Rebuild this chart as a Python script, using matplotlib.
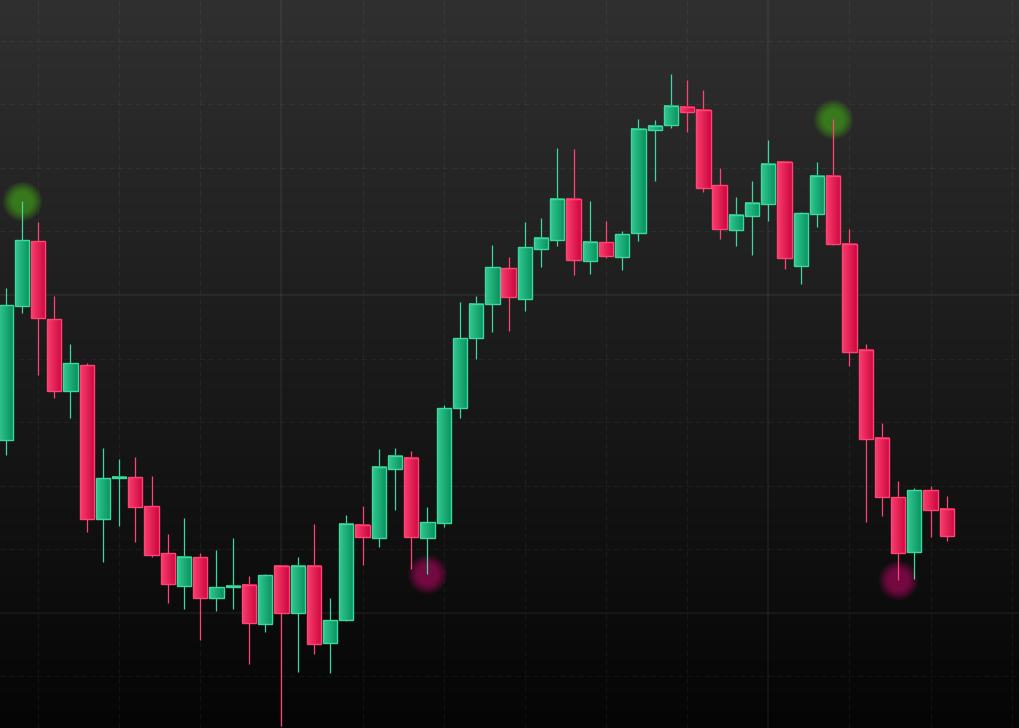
import matplotlib
matplotlib.use("Agg")
import matplotlib.pyplot as plt
import numpy as np
from matplotlib.colors import LinearSegmentedColormap
from matplotlib.patches import Rectangle

# OHLC values (one candle per slot)
opens = [102.72, 104.83, 105.85, 104.62, 103.49, 103.90, 101.48, 102.12, 102.14, 101.68,
         100.94, 100.42, 100.88, 100.24, 100.41, 100.44, 99.83, 100.74, 100.00, 100.74,
         99.53, 99.89, 101.38, 101.18, 102.26, 102.44, 101.18, 101.42, 103.22, 104.32,
         104.86, 105.42, 104.94, 105.72, 105.86, 106.51, 105.53, 105.83, 105.60, 105.97,
         107.59, 107.67, 107.96, 107.91, 106.73, 106.02, 106.24, 106.43, 107.09, 105.46,
         106.27, 106.87, 105.80, 104.14, 102.75, 101.82, 100.96, 101.93, 101.64]
highs = [105.11, 106.48, 106.15, 104.98, 104.23, 103.93, 102.59, 102.42, 102.45, 102.15,
         101.24, 101.49, 100.94, 100.99, 101.18, 100.58, 100.61, 100.75, 100.88, 101.40,
         100.24, 101.54, 101.68, 102.58, 102.59, 102.55, 101.67, 103.27, 104.89, 104.98,
         105.79, 105.60, 106.15, 106.21, 107.31, 107.30, 106.48, 106.16, 106.01, 107.77,
         107.75, 108.47, 108.38, 108.22, 107.00, 106.54, 106.79, 107.44, 107.11, 106.30,
         107.09, 107.77, 106.04, 104.23, 102.99, 102.08, 101.97, 102.00, 101.84]
lows = [102.48, 104.72, 103.74, 103.38, 103.07, 101.27, 100.80, 101.37, 101.12, 100.88,
        100.16, 100.06, 99.58, 100.03, 100.06, 99.20, 99.70, 98.22, 99.07, 99.36,
        99.06, 99.88, 100.75, 101.04, 101.62, 100.69, 100.61, 101.35, 103.07, 103.99,
        104.42, 104.43, 104.75, 105.44, 105.77, 105.31, 105.33, 105.58, 105.39, 105.85,
        106.79, 107.63, 107.56, 106.62, 105.88, 105.77, 105.63, 106.16, 105.41, 105.17,
        106.07, 105.79, 103.88, 101.43, 101.53, 100.52, 100.53, 101.19, 101.13]
closes = [104.84, 105.86, 104.64, 103.49, 103.93, 101.48, 102.12, 102.13, 101.67, 100.91,
          100.46, 100.88, 100.24, 100.41, 100.42, 99.84, 100.60, 100.00, 100.74, 99.51,
          99.89, 101.40, 101.19, 102.30, 102.47, 101.19, 101.43, 103.22, 104.32, 104.86,
          105.44, 104.97, 105.75, 105.90, 106.51, 105.55, 105.83, 105.61, 105.96, 107.61,
          107.66, 107.97, 107.88, 106.68, 106.04, 106.26, 106.45, 107.06, 105.58, 106.29,
          106.87, 105.80, 104.10, 102.74, 101.82, 100.94, 101.93, 101.62, 101.21]

# swing points marked with a glow
swing_highs = [1, 51]
swing_lows = [26, 55]

green_light, green_dark, green_edge = "#33c892", "#07915e", "#3ed79d"
red_light, red_dark, red_edge = "#fa3d6e", "#cc083f", "#ff4474"

plt.rcParams["lines.scale_dashes"] = False

fig = plt.figure(figsize=(10.2, 7.28), dpi=100)
ax = fig.add_axes([0, 0, 1, 1])
ax.set_axis_off()

# background: vertical gradient
bg = LinearSegmentedColormap.from_list("bg", ["#050505", "#303030"])
ax.imshow(np.linspace(0, 1, 256).reshape(-1, 1)[::-1], cmap=bg, aspect="auto",
          extent=(0, 1, 0, 1), transform=ax.transAxes, zorder=0)

n = len(opens)
xs = np.arange(n)

# grid
for gy in range(99, 110):
    if gy % 5 == 0:
        ax.axhline(gy, color="white", alpha=0.06, lw=1.2, zorder=1)
    else:
        ax.axhline(gy, color="white", alpha=0.05, lw=0.8, dashes=(4, 2.5), zorder=1)
for gx in range(2, 63, 5):
    if gx in (17, 47):
        ax.axvline(gx, color="white", alpha=0.06, lw=1.2, zorder=1)
    else:
        ax.axvline(gx, color="white", alpha=0.05, lw=0.8, dashes=(4, 2.5), zorder=1)

# glows
def glow(x, y, color):
    for s in [800, 680, 580, 500, 430, 370, 310, 260, 210]:
        ax.scatter([x], [y], s=s, color=color, alpha=0.12, lw=0, zorder=2)

for i in swing_highs:
    glow(xs[i], highs[i], "#43a11b")
for i in swing_lows:
    glow(xs[i], lows[i], "#a6095b")

cmap_g = LinearSegmentedColormap.from_list("g", [green_light, green_dark])
cmap_r = LinearSegmentedColormap.from_list("r", [red_light, red_dark])
grad = np.linspace(0, 1, 64).reshape(1, -1)
w = 0.88
min_h = 0.02

for i in range(n):
    o, h, l, c = opens[i], highs[i], lows[i], closes[i]
    up = c >= o
    edge = green_edge if up else red_edge
    ax.plot([xs[i], xs[i]], [l, h], color=edge, lw=0.9, zorder=3, solid_capstyle="butt")
    lo, hi = min(o, c), max(o, c)
    if hi - lo < min_h:
        mid = (hi + lo) / 2
        lo, hi = mid - min_h / 2, mid + min_h / 2
    ax.imshow(grad, cmap=cmap_g if up else cmap_r, aspect="auto",
              extent=(xs[i] - w / 2, xs[i] + w / 2, lo, hi), zorder=4)
    ax.add_patch(Rectangle((xs[i] - w / 2, lo), w, hi - lo, facecolor="none",
                           edgecolor=edge, lw=1.0, zorder=5))

ax.set_xlim(-0.34, 62.51)
ax.set_ylim(98.19, 109.64)
ax.set_aspect("auto")

fig.savefig("out.png", dpi=100)
